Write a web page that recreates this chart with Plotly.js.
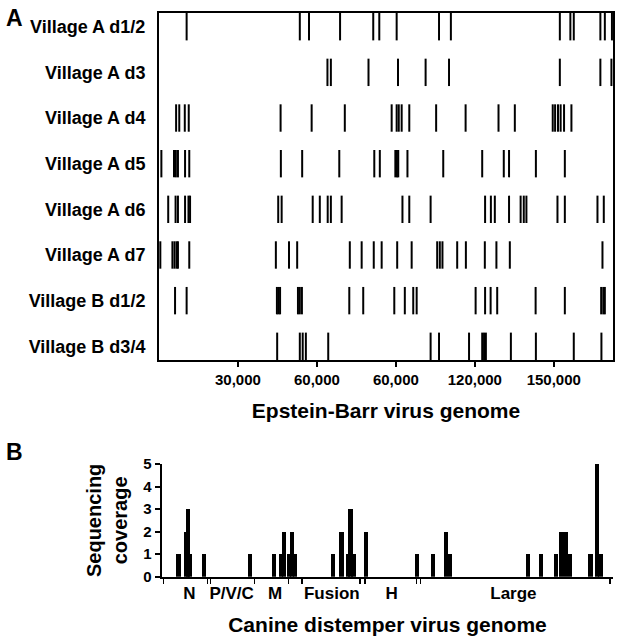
<!DOCTYPE html>
<html>
<head>
<meta charset="utf-8">
<script src="https://cdn.plot.ly/plotly-3.0.1.min.js"></script>
<style>
  body { margin: 0; background: #fff; }
  #chart { width: 625px; height: 637px; }
</style>
</head>
<body>
<div id="chart"></div>
<script>
// panel A: EBV variant positions per sample (top row first)
var rowLabels = ["Village A d1/2", "Village A d3", "Village A d4", "Village A d5",
                 "Village A d6", "Village A d7", "Village B d1/2", "Village B d3/4"];
var villageAd12 = [10500, 53500, 57000, 68800, 81400, 83700, 90300, 106400, 110900, 152300, 156300, 157600, 167700, 169400, 172100];
var villageAd3 = [64000, 65300, 79600, 90800, 101300, 110200, 152300, 167700, 171900];
var villageAd4 = [6500, 7700, 9800, 11300, 46200, 58000, 70600, 88400, 90300, 91100, 92200, 95100, 105300, 116500, 129000, 135200, 149600, 150500, 151600, 152600, 153900, 156700];
var villageAd5 = [900, 5700, 6400, 7200, 9900, 11500, 46300, 54400, 68500, 81800, 83900, 89800, 90400, 90900, 94400, 108000, 122800, 131000, 133000, 143200, 154200];
var villageAd6 = [3500, 6300, 7200, 9900, 11200, 11800, 45300, 46600, 58400, 61100, 64100, 65300, 69400, 92500, 95100, 103200, 123900, 126100, 127600, 133000, 137400, 138600, 139600, 151400, 154200, 166600, 169000];
var villageAd7 = [500, 5100, 5900, 6700, 7200, 11500, 44400, 49400, 52500, 72500, 77000, 81600, 84600, 90500, 96000, 105700, 106700, 107700, 113300, 116600, 123800, 128200, 133300, 168500];
var villageBd12 = [6100, 10500, 44800, 45400, 46000, 52800, 53500, 54300, 72300, 77600, 89400, 93400, 96600, 97900, 120300, 123900, 126000, 128500, 143100, 154200, 168000, 168800, 169400];
var villageBd34 = [44900, 53500, 54600, 55800, 64300, 103200, 106400, 117800, 122800, 123500, 124200, 133700, 143200, 157600, 168100];
var ebvTickVals = [30000, 60000, 90000, 120000, 150000];
var ebvTickText = ["30,000", "60,000", "60,000", "120,000", "150,000"];

// panel B: CDV read coverage
var cdvPositions = [584, 862, 914, 990, 1477, 3075, 3909, 4145, 4250, 4416, 4534, 4632, 5945, 6247, 6473, 6560, 6664, 7092, 8860, 9433, 9871, 10028, 12717, 13179, 13707, 13874, 14030, 14187, 14899, 15115, 15247];
var cdvCoverage = [1, 2, 3, 1, 1, 1, 1, 1, 2, 1, 2, 1, 1, 2, 1, 3, 1, 2, 1, 1, 2, 1, 1, 1, 1, 2, 2, 1, 1, 5, 1];
var geneNames = ["N", "P/V/C", "M", "Fusion", "H", "Large"];
var geneCenters = [960, 2430, 3940, 5910, 7990, 12220];
var geneBoundaries = [60, 1590, 1700, 3230, 4400, 4870, 6890, 7060, 8860, 9000, 15580];

var rows = [villageAd12, villageAd3, villageAd4, villageAd5, villageAd6, villageAd7, villageBd12, villageBd34];
var font = "Liberation Sans, Arial, sans-serif";
var W = 625, H = 637;

function px(a, b, total) { return [a / total, b / total]; }
function pyDomain(top, bottom) { return [1 - bottom / H, 1 - top / H]; }

var data = [];
for (var r = 0; r < rows.length; r++) {
  var yc = rows.length - 1 - r;
  var xs = [], ys = [];
  for (var i = 0; i < rows[r].length; i++) {
    xs.push(rows[r][i], rows[r][i], null);
    ys.push(yc - 0.3, yc + 0.3, null);
  }
  data.push({
    x: xs, y: ys, type: 'scatter', mode: 'lines',
    line: {color: '#000', width: 2}, hoverinfo: 'skip',
    xaxis: 'x', yaxis: 'y', showlegend: false
  });
}

data.push({
  x: cdvPositions, y: cdvCoverage, type: 'bar', width: 150,
  marker: {color: '#000', line: {width: 0}},
  xaxis: 'x2', yaxis: 'y2', showlegend: false
});

var rowVals = [];
for (var k = 0; k < rowLabels.length; k++) rowVals.push(rowLabels.length - 1 - k);

var layout = {
  width: W, height: H,
  margin: {l: 0, r: 0, t: 0, b: 0},
  paper_bgcolor: '#fff', plot_bgcolor: '#fff',
  font: {family: font, color: '#000'},
  xaxis: {
    domain: px(159, 613, W), range: [0, 172500],
    showline: true, mirror: true, linecolor: '#000', linewidth: 2,
    showgrid: false, zeroline: false,
    tickmode: 'array', tickvals: ebvTickVals, ticktext: ebvTickText,
    ticks: 'outside', ticklen: 5, tickwidth: 2, tickcolor: '#000',
    tickfont: {size: 15, weight: 'bold'},
    title: {text: 'Epstein-Barr virus genome', font: {size: 21, weight: 'bold'}, standoff: 16}
  },
  yaxis: {
    domain: pyDomain(13, 360), range: [-0.3, 7.3],
    showline: true, mirror: true, linecolor: '#000', linewidth: 2,
    showgrid: false, zeroline: false,
    tickmode: 'array', tickvals: rowVals, ticktext: rowLabels,
    ticks: '', ticklabelstandoff: 8,
    tickfont: {size: 18, weight: 'bold'}
  },
  xaxis2: {
    domain: px(161.7, 613.3, W), range: [0, 15690],
    anchor: 'y2',
    showline: true, linecolor: '#000', linewidth: 2,
    showgrid: false, zeroline: false,
    tickmode: 'array', tickvals: geneCenters, ticktext: geneNames, ticks: '',
    minor: {tickmode: 'array', tickvals: geneBoundaries, ticks: 'outside', ticklen: 5, tickwidth: 1.5, tickcolor: '#000', showgrid: false},
    tickfont: {size: 17, weight: 'bold'},
    title: {text: 'Canine distemper virus genome', font: {size: 21, weight: 'bold'}, standoff: 15}
  },
  yaxis2: {
    domain: pyDomain(464, 576.7), range: [0, 5],
    anchor: 'x2',
    showline: true, linecolor: '#000', linewidth: 2,
    showgrid: false, zeroline: false,
    tickmode: 'array', tickvals: [0, 1, 2, 3, 4, 5],
    ticks: 'outside', ticklen: 5, tickwidth: 2, tickcolor: '#000',
    tickfont: {size: 15, weight: 'bold'},
    title: {text: 'Sequencing<br>coverage', font: {size: 20, weight: 'bold'}, standoff: 10}
  },
  bargap: 0,
  annotations: [
    {text: 'A', xref: 'paper', yref: 'paper', x: 4 / W, y: 1 - 3 / H, xanchor: 'left', yanchor: 'top',
     showarrow: false, font: {size: 23, weight: 'bold'}},
    {text: 'B', xref: 'paper', yref: 'paper', x: 4 / W, y: 1 - 437 / H, xanchor: 'left', yanchor: 'top',
     showarrow: false, font: {size: 23, weight: 'bold'}}
  ]
};

Plotly.newPlot('chart', data, layout, {displayModeBar: false, staticPlot: true});
</script>
</body>
</html>
